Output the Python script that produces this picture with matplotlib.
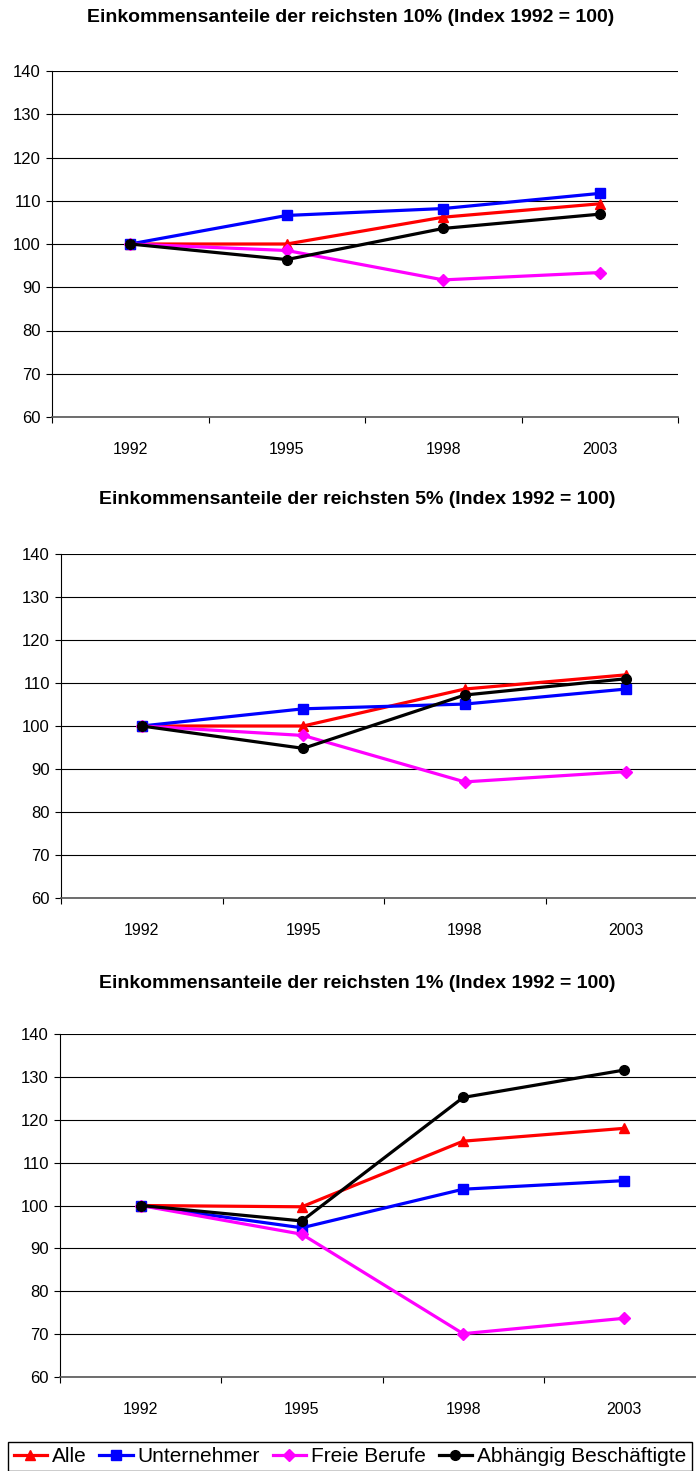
import matplotlib
matplotlib.use("Agg")
from matplotlib import pyplot as plt

plt.rcParams['font.family'] = ['Liberation Sans', 'DejaVu Sans']

years = ['1992', '1995', '1998', '2003']
series = ['Alle', 'Unternehmer', 'Freie Berufe', 'Abhängig Beschäftigte']
colors = ['#ff0000', '#0000ff', '#ff00ff', '#000000']
markers = ['^', 's', 'D', 'o']

titles = ['Einkommensanteile der reichsten 10% (Index 1992 = 100)',
          'Einkommensanteile der reichsten 5% (Index 1992 = 100)',
          'Einkommensanteile der reichsten 1% (Index 1992 = 100)']

top10_alle = [100, 100.0, 106.2, 109.3]
top10_unternehmer = [100, 106.6, 108.2, 111.7]
top10_freie = [100, 98.5, 91.7, 93.4]
top10_abh = [100, 96.4, 103.6, 106.9]

top5_alle = [100, 100.0, 108.6, 111.9]
top5_unternehmer = [100, 104.0, 105.1, 108.6]
top5_freie = [100, 97.8, 87.0, 89.4]
top5_abh = [100, 94.8, 107.2, 111.0]

top1_alle = [100, 99.7, 115.0, 118.0]
top1_unternehmer = [100, 94.8, 103.8, 105.8]
top1_freie = [100, 93.3, 70.1, 73.7]
top1_abh = [100, 96.4, 125.2, 131.6]

panels = [
    [top10_alle, top10_unternehmer, top10_freie, top10_abh],
    [top5_alle, top5_unternehmer, top5_freie, top5_abh],
    [top1_alle, top1_unternehmer, top1_freie, top1_abh],
]

W, H = 696, 1471
fig = plt.figure(figsize=(W / 100, H / 100), dpi=100)

# pixel boxes: left, right, top(140), bottom(60), title y
boxes = [(52, 678, 71, 417, 18),
         (61, 707, 554, 898, 500),
         (60, 705, 1034, 1377, 983)]
title_x = [351, 357, 357]

lines = []
for i, (data, (l, r, t, b, ty)) in enumerate(zip(panels, boxes)):
    ax = fig.add_axes([l / W, 1 - b / H, (r - l) / W, (b - t) / H])
    x = range(len(years))
    lines = []
    for vals, c, m, name in zip(data, colors, markers, series):
        ms = 7 if m != 'D' else 6
        ln, = ax.plot(x, vals, color=c, marker=m, markersize=ms, lw=2.3,
                      label=name, clip_on=False, zorder=3)
        lines.append(ln)
    ax.set_ylim(60, 140)
    ax.set_xlim(-0.5, 3.5)
    ax.set_yticks(range(60, 141, 10))
    ax.set_xticks(list(x))
    ax.set_xticklabels(years)
    ax.set_xticks([-0.5, 0.5, 1.5, 2.5, 3.5], minor=True)
    ax.tick_params(axis='x', which='major', length=0, pad=18, labelsize=11.5)
    ax.tick_params(axis='x', which='minor', length=4, direction='out', width=0.8)
    ax.tick_params(axis='y', length=4, direction='out', width=0.8, pad=4, labelsize=12)
    ax.grid(axis='y', color='black', lw=0.8)
    ax.set_axisbelow(True)
    for s in ['top', 'right']:
        ax.spines[s].set_visible(False)
    ax.spines['left'].set_linewidth(0.8)
    ax.spines['bottom'].set_color('#555555')
    ax.spines['bottom'].set_linewidth(1.2)
    fig.text(title_x[i] / W, 1 - ty / H, titles[i], ha='center', va='center',
             fontsize=14, fontweight='bold')

fig.legend(lines, series, loc='upper center', bbox_to_anchor=(350 / W, 1 - 1442 / H),
           ncol=4, frameon=True, fancybox=False, edgecolor='black', framealpha=1,
           fontsize=15, handlelength=1.6, handletextpad=0.25, columnspacing=0.6,
           borderpad=0.25, borderaxespad=0)

fig.savefig('out.png', dpi=100)
